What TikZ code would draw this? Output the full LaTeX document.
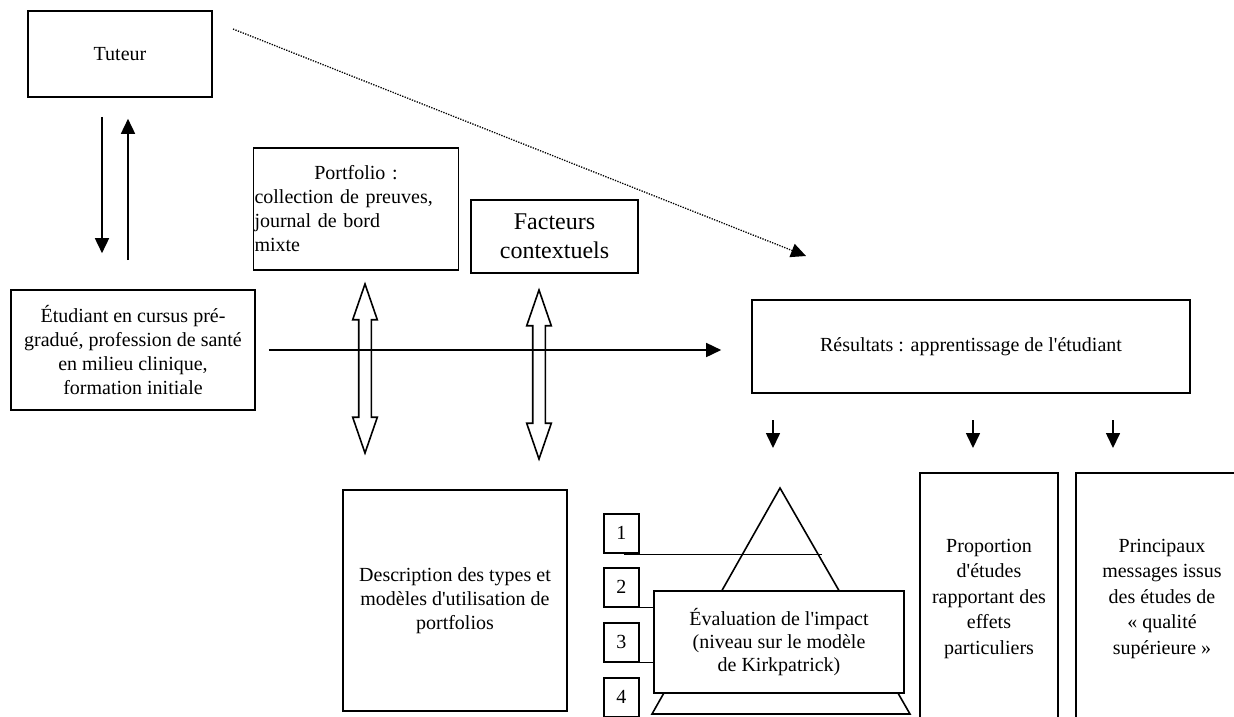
\documentclass[tikz,border=0pt]{standalone}
\usepackage{fontspec}
\setmainfont{Liberation Serif}[Ligatures=TeXOff]
\usepackage{tikz}
\usetikzlibrary{arrows.meta, shapes.arrows, calc}

\tikzset{
  box/.style={draw, line width=1.6pt, inner sep=2pt, align=center,
    font=\fontsize{20}{24}\selectfont},
  numbox/.style={box, anchor=north west, minimum width=35pt, minimum height=39pt},
  arr/.style={line width=1.6pt, -{Triangle[length=15pt, width=14pt]}},
  dblarr/.style={draw, line width=1.6pt, double arrow, rotate=90, inner sep=5.5pt,
    minimum height=169pt, double arrow tip angle=38, double arrow head extend=6pt}
}

\begin{document}
\begin{tikzpicture}[x=1pt, y=-1pt, line width=1.6pt]
  \useasboundingbox (0,0) rectangle (1234,716);
  \clip (0,0) rectangle (1234,716);

  % top left
  \node[box, minimum width=184pt, minimum height=86pt] (tuteur) at (120,54) {Tuteur};
  \node[box, minimum width=244pt, minimum height=120pt] (etud) at (133,350)
    {Étudiant en cursus pré-\\gradué, profession de santé\\en milieu clinique,\\formation initiale};
  \draw[arr] ([xshift=-18pt, yshift=-19pt]tuteur.south) -- ([xshift=-31pt, yshift=36pt]etud.north);
  \draw[arr] ([xshift=-5pt, yshift=29pt]etud.north) -- ([xshift=8pt, yshift=-21pt]tuteur.south);

  % portfolio and context
  \node[box, align=left, text width=203pt, inner xsep=1pt, minimum height=122pt] (portf) at (356,209)
    {\makebox[203pt]{Portfolio :}\\collection de preuves,\\journal de bord\\mixte};
  \node[box, font=\fontsize{24}{29}\selectfont, minimum width=167pt, minimum height=73pt] (facteurs)
    at (554.5,236.5) {Facteurs\\contextuels};
  \node[dblarr] (portdbl) at (365,368.5) {};
  \node[dblarr] (factdbl) at (539,374.5) {};

  % results
  \node[box, minimum width=438pt, minimum height=93pt] (res) at (971,346.5)
    {Résultats : apprentissage de l'étudiant};
  \draw[arr] ([xshift=13pt]etud.east) -- ([xshift=-30pt]etud.east -| res.west);
  \coordinate (dotstart) at (233,29);
  \coordinate (dotend) at (806,256);
  \draw[arr, line width=1.3pt, dash pattern=on 1.3pt off 1.3pt] (dotstart) -- (dotend);
  \foreach \x/\n in {773/a, 973/b, 1113/c} {
    \coordinate (down\n) at (\x,420);
    \draw[arr] (down\n) -- ++(0,28);
  }

  % bottom row
  \node[box, minimum width=224pt, minimum height=221pt] (descr) at (455,600.5)
    {Description des types et\\modèles d'utilisation de\\portfolios};
  \draw (652,714) -- (780,488) -- (910,714) -- cycle;
  \foreach \i/\y in {1/513, 2/567, 3/622, 4/677}
    \node[numbox] (n\i) at (603,\y) {\i};
  \node[box, fill=white, minimum width=250pt, minimum height=102pt, font=\fontsize{20}{23}\selectfont]
    (eval) at (779,642) {Évaluation de l'impact\\(niveau sur le modèle\\de Kirkpatrick)};
  \draw ($(n1.south)+(2.5,1)$) -- +(198,0);
  \draw (n2.south) -- (n2.south -| eval.west);
  \draw (n3.south) -- (n3.south -| eval.west);
  \node[box, font=\fontsize{20}{25.5}\selectfont, minimum width=138pt, minimum height=251pt]
    (prop) at (989,598.5) {Proportion\\d'études\\rapportant des\\effets\\particuliers};
  \node[box, font=\fontsize{20}{25.5}\selectfont, minimum width=172pt, minimum height=251pt]
    (princ) at (1162,598.5) {Principaux\\messages issus\\des études de\\«~qualité\\supérieure~»};
\end{tikzpicture}
\end{document}
